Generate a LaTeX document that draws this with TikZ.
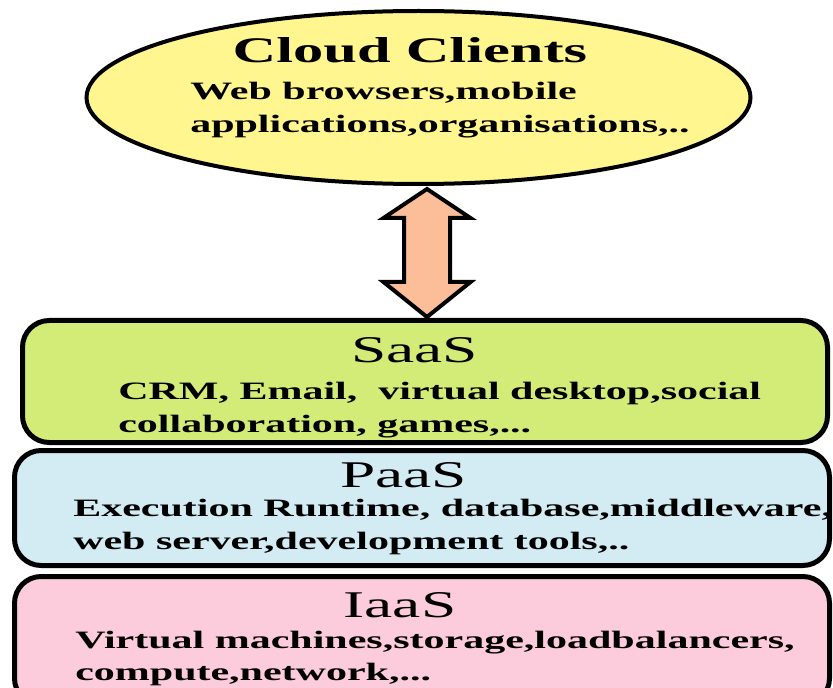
\documentclass[tikz,border=0pt]{standalone}
\usepackage{fontspec}
\newfontfamily\widefont{Liberation Serif}[FakeStretch=1.68]
\usetikzlibrary{calc,shapes.geometric}

\definecolor{clientyellow}{RGB}{255,246,143}
\definecolor{saasgreen}{RGB}{211,236,120}
\definecolor{paasblue}{RGB}{211,236,243}
\definecolor{iaaspink}{RGB}{252,203,220}
\definecolor{arrowpeach}{RGB}{251,190,152}

\tikzset{
  layerbox/.style={draw=black, line width=3.75pt, rounded corners=20pt, inner sep=0pt},
  heading/.style={font=\widefont\bfseries\fontsize{27}{30}\selectfont, anchor=base, inner sep=0pt},
  layerhead/.style={font=\widefont\fontsize{28.3}{30}\selectfont, anchor=base, inner sep=0pt},
  body/.style={font=\widefont\bfseries\fontsize{18.75}{24}\selectfont, anchor=base west, inner sep=0pt},
  linkarrow/.style={draw=black, line width=3pt, fill=arrowpeach, line join=miter},
}

\begin{document}
\begin{tikzpicture}[x=0.75pt, y=-0.75pt]
\useasboundingbox (0,0) rectangle (833,688);

% client ellipse
\node[ellipse, draw=black, line width=3pt, fill=clientyellow, inner sep=0pt,
      minimum width=664*0.75pt, minimum height=173*0.75pt] (cc) at (418.5,97.5) {};
\node[heading] (cct) at (410,63) {Cloud Clients};
\node[body] (cc1) at (190,100) {Web browsers,mobile};
\node[body] (cc2) at (190,133) {applications,organisations,..};

% service layers
\node[layerbox, fill=iaaspink, minimum width=815*0.75pt, minimum height=128.5*0.75pt] (iaas) at (422,640.75) {};
\node[layerbox, fill=paasblue, minimum width=815*0.75pt, minimum height=115*0.75pt] (paas) at (422,508) {};
\node[layerbox, fill=saasgreen, minimum width=805*0.75pt, minimum height=122*0.75pt] (saas) at (425,381.5) {};

\node[layerhead] (saast) at (414.5,363) {SaaS};
\node[body] (saas1) at (118,400) {CRM, Email,\ \ virtual desktop,social};
\node[body] (saas2) at (118,432) {collaboration, games,...};

\node[layerhead] (paast) at (403.5,488) {PaaS};
\node[body] (paas1) at (73,516) {Execution Runtime, database,middleware,};
\node[body] (paas2) at (73,549) {web server,development tools,..};

\node[layerhead] (iaast) at (400,617) {IaaS};
\node[body] (iaas1) at (75,648) {Virtual machines,storage,loadbalancers,};
\node[body] (iaas2) at (75,680) {compute,network,...};

% two-headed arrow between clients and SaaS
\coordinate (atop) at (427,189);
\coordinate (abot) at (427,317);
\draw[linkarrow] (atop)
  -- ($(atop)+(43.5,29)$) -- ($(atop)+(23,29)$)
  -- ($(abot)+(23,-35)$) -- ($(abot)+(43.5,-35)$)
  -- (abot)
  -- ($(abot)+(-43.5,-35)$) -- ($(abot)+(-23,-35)$)
  -- ($(atop)+(-23,29)$) -- ($(atop)+(-43.5,29)$)
  -- cycle;
\end{tikzpicture}
\end{document}
